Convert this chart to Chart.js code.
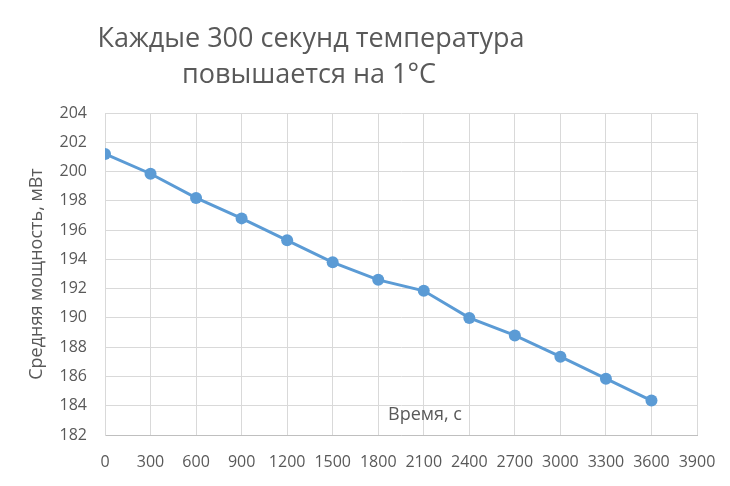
<!DOCTYPE html>
<html>
<head>
<meta charset="utf-8">
<script src="https://cdn.jsdelivr.net/npm/chart.js@4/dist/chart.umd.min.js"></script>
<style>
  html, body { margin: 0; padding: 0; background: #fff; }
  #wrap { width: 730px; height: 486px; position: relative; }
</style>
</head>
<body>
<div id="wrap"><canvas id="chart"></canvas></div>
<script>
// время, с
const timeSec = [0, 300, 600, 900, 1200, 1500, 1800, 2100, 2400, 2700, 3000, 3300, 3600];
// средняя мощность, мВт
const powerMw = [201.2, 199.85, 198.2, 196.8, 195.3, 193.8, 192.6, 191.85, 190.0, 188.8, 187.35, 185.85, 184.35];

const titleLines = ["Каждые 300 секунд температура", "повышается на 1°С"];
const xTitle = "Время, с";
const yTitle = "Средняя мощность, мВт";

const textColor = "#595959";
const fontFamily = "'Open Sans', sans-serif";

const points = timeSec.map((t, i) => ({ x: t, y: powerMw[i] }));

// рисуем заголовок и подпись оси X вручную, чтобы поставить их как в оригинале
const labelsPlugin = {
    id: "labelsPlugin",
    afterDraw(chart) {
        const ctx = chart.ctx;
        ctx.save();
        ctx.fillStyle = textColor;
        ctx.textAlign = "center";
        ctx.textBaseline = "alphabetic";
        ctx.font = "27px " + fontFamily;
        ctx.fillText(titleLines[0], 311, 47);
        ctx.fillText(titleLines[1], 309, 83);

        ctx.font = "18px " + fontFamily;
        ctx.textBaseline = "middle";
        ctx.fillText(xTitle, 425, 415);
        ctx.restore();
    }
};

new Chart(document.getElementById("chart"), {
    type: "line",
    data: {
        datasets: [{
            data: points,
            borderColor: "#5b9bd5",
            backgroundColor: "#5b9bd5",
            borderWidth: 3,
            pointRadius: 6,
            pointHoverRadius: 6,
            pointBorderWidth: 0,
            tension: 0
        }]
    },
    options: {
        responsive: true,
        maintainAspectRatio: false,
        animation: false,
        layout: { padding: { top: 113, right: 33, left: 0, bottom: 0 } },
        plugins: {
            legend: { display: false },
            tooltip: { enabled: false }
        },
        scales: {
            x: {
                type: "linear",
                min: 0,
                max: 3900,
                afterFit(scale) {
                    scale.height = 51;
                    scale.paddingLeft = 0;
                    scale.paddingRight = 0;
                },
                ticks: {
                    stepSize: 300,
                    color: textColor,
                    font: { family: fontFamily, size: 16 },
                    padding: 18,
                    maxRotation: 0,
                    autoSkip: false,
                    callback: v => String(v)
                },
                grid: { color: "#d9d9d9", drawTicks: false, lineWidth: 1 },
                border: { color: "#bfbfbf", width: 1 }
            },
            y: {
                min: 182,
                max: 204,
                afterFit(scale) {
                    scale.width = 105;
                    scale.paddingTop = 0;
                    scale.paddingBottom = 0;
                },
                ticks: {
                    stepSize: 2,
                    color: textColor,
                    font: { family: fontFamily, size: 16 },
                    padding: 18,
                    callback: v => String(v)
                },
                grid: { color: "#d9d9d9", drawTicks: false, lineWidth: 1 },
                border: { color: "#d9d9d9", width: 1 },
                title: {
                    display: true,
                    text: yTitle,
                    color: textColor,
                    font: { family: fontFamily, size: 18 },
                    padding: { top: 26, bottom: 0 }
                }
            }
        }
    },
    plugins: [labelsPlugin]
});
</script>
</body>
</html>
